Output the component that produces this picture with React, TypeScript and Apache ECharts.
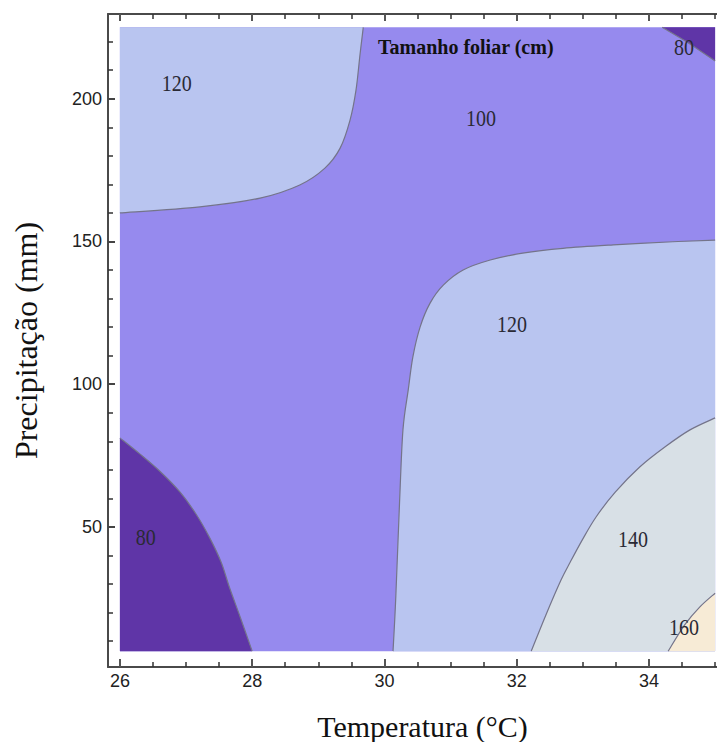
import React, { useEffect, useRef } from "react";
import * as echarts from "echarts";

// ---- data ----
const tempExtent = [26, 35];
const precipExtent = [6.5, 225];
const xAxisMin = 25.82;
const xAxisMax = 35.18;
const yAxisMin = 0.95;
const yAxisMax = 229.67;

const xLabelTicks = [26, 28, 30, 32, 34];
const xMinorTicks = [26.5, 27, 27.5, 28.5, 29, 29.5, 30.5, 31, 31.5, 32.5, 33, 33.5, 34.5, 35];
const yLabelTicks = [50, 100, 150, 200];
const yMinorTicks = [10, 20, 30, 40, 60, 70, 80, 90, 110, 120, 130, 140, 160, 170, 180, 190, 210, 220];

// contour lines [temperature, precipitation]
const contour80Low: number[][] = [
  [26.0, 81.2], [26.3, 75.6], [26.6, 69.6], [26.91, 62.2], [27.16, 54.2],
  [27.36, 46.1], [27.53, 37.7], [27.66, 28.6], [27.82, 18.4], [28.0, 6.5],
];
const contour120Left: number[][] = [
  [26.0, 160.0], [27.21, 162.1], [28.12, 165.2], [28.72, 169.8], [29.1, 175.7],
  [29.33, 182.7], [29.48, 192.5], [29.57, 203.0], [29.63, 215.3], [29.68, 225.0],
];
const contour120Right: number[][] = [
  [35.0, 150.5], [34.36, 149.9], [33.46, 148.8], [32.7, 147.6], [32.09, 145.9],
  [31.6, 143.5], [31.19, 140.0], [30.89, 134.7], [30.69, 128.4], [30.54, 120.1],
  [30.43, 109.6], [30.36, 98.0], [30.28, 84.0], [30.23, 59.4], [30.17, 24.5], [30.13, 6.5],
];
const contour140: number[][] = [
  [35.0, 88.2], [34.62, 84.0], [34.24, 78.0], [33.86, 71.0], [33.49, 62.2],
  [33.2, 53.5], [32.99, 45.4], [32.81, 37.7], [32.67, 31.4], [32.44, 19.1], [32.22, 6.5],
];
const contour160: number[][] = [
  [35.0, 26.8], [34.77, 22.0], [34.54, 15.7], [34.29, 6.5],
];
const contour80High: number[][] = [
  [34.2, 225.0], [34.62, 219.2], [35.0, 213.2],
];

const labelTexts = ["120", "100", "80", "120", "80", "140", "160"];
const labelTemps = [26.86, 31.46, 34.53, 31.93, 26.39, 33.76, 34.53];
const labelPrecips = [205.5, 193.2, 218.2, 121.1, 46.5, 45.8, 15.0];

const titleText = "Tamanho foliar (cm)";
const titlePos = [31.23, 218.1];

// ---- styles ----
const levelColors: Record<number, string> = {
  80: "#5f35a7",
  100: "#968aee",
  120: "#b9c5f0",
  140: "#d8e0e6",
  160: "#f7ebd6",
};

const [t0, t1] = tempExtent;
const [p0, p1] = precipExtent;
const regions = [
  { level: 100, curve: [[t0, p0], [t1, p0], [t1, p1]], corner: [t0, p1], smooth: false },
  { level: 80, curve: contour80Low, corner: [t0, p0], smooth: true },
  { level: 120, curve: contour120Left, corner: [t0, p1], smooth: true },
  { level: 120, curve: contour120Right, corner: [t1, p0], smooth: true },
  { level: 140, curve: contour140, corner: [t1, p0], smooth: true },
  { level: 160, curve: contour160, corner: [t1, p0], smooth: true },
  { level: 80, curve: contour80High, corner: [t1, p1], smooth: true },
];
const lines = [contour80Low, contour120Left, contour120Right, contour140, contour160, contour80High];

const axisColor = "#4a4a4a";
const tickFont = { fontFamily: "Liberation Sans", fontSize: 18, color: "#222" };

// Catmull-Rom curve through screen points, written as cubic Bezier path
function curvePath(pts: number[][], smooth: boolean): string {
  const f = (p: number[]) => `${p[0].toFixed(2)},${p[1].toFixed(2)}`;
  let d = `M${f(pts[0])}`;
  for (let i = 0; i < pts.length - 1; i++) {
    const a = pts[i - 1] || pts[i];
    const b = pts[i];
    const c = pts[i + 1];
    const e = pts[i + 2] || c;
    if (!smooth) {
      d += ` L${f(c)}`;
      continue;
    }
    const c1 = [b[0] + (c[0] - a[0]) / 6, b[1] + (c[1] - a[1]) / 6];
    const c2 = [c[0] - (e[0] - b[0]) / 6, c[1] - (e[1] - b[1]) / 6];
    d += ` C${f(c1)} ${f(c2)} ${f(c)}`;
  }
  return d;
}

export default function App() {
  const ref = useRef<HTMLDivElement>(null);
  useEffect(() => {
    if (!ref.current) return;
    const chart = echarts.init(ref.current, null, { renderer: "svg", width: 727, height: 742 });
    const baseX = {
      type: "value" as const,
      min: xAxisMin,
      max: xAxisMax,
      splitLine: { show: false },
    };
    const baseY = {
      type: "value" as const,
      min: yAxisMin,
      max: yAxisMax,
      splitLine: { show: false },
    };
    chart.setOption({
      animation: false,
      backgroundColor: "#ffffff",
      grid: { left: 108, top: 14, right: 0, bottom: 75, containLabel: false, outerBoundsMode: "none" },
      xAxis: [
        {
          ...baseX,
          position: "bottom",
          name: "Temperatura (°C)",
          nameLocation: "middle",
          nameGap: 44,
          nameTextStyle: { fontFamily: "Liberation Serif", fontSize: 30, color: "#111", padding: [0, 0, 0, 10] },
          axisLine: { show: true, onZero: false, lineStyle: { color: axisColor, width: 2 } },
          axisTick: { show: true, inside: true, length: 8, customValues: xLabelTicks, lineStyle: { color: "#555", width: 2 } },
          axisLabel: { show: true, margin: 5, customValues: xLabelTicks, ...tickFont },
        },
        {
          ...baseX,
          position: "bottom",
          axisLine: { show: false, onZero: false },
          axisTick: { show: true, inside: true, length: 5, customValues: xMinorTicks, lineStyle: { color: "#333", width: 1.5 } },
          axisLabel: { show: false },
        },
        {
          ...baseX,
          position: "top",
          axisLine: { show: true, onZero: false, lineStyle: { color: axisColor, width: 2 } },
          axisTick: { show: true, inside: true, length: 7, customValues: xLabelTicks, lineStyle: { color: "#555", width: 2 } },
          axisLabel: { show: false },
        },
        {
          ...baseX,
          position: "top",
          axisLine: { show: false, onZero: false },
          axisTick: { show: true, inside: true, length: 5, customValues: xMinorTicks, lineStyle: { color: "#333", width: 1.5 } },
          axisLabel: { show: false },
        },
      ],
      yAxis: [
        {
          ...baseY,
          position: "left",
          name: "Precipitação (mm)",
          nameLocation: "middle",
          nameGap: 66,
          nameRotate: 90,
          nameTextStyle: { fontFamily: "Liberation Serif", fontSize: 32, color: "#111" },
          axisLine: { show: true, onZero: false, lineStyle: { color: axisColor, width: 2 } },
          axisTick: { show: true, inside: true, length: 7, customValues: yLabelTicks, lineStyle: { color: "#444", width: 2 } },
          axisLabel: { show: true, margin: 6, customValues: yLabelTicks, ...tickFont },
        },
        {
          ...baseY,
          position: "left",
          axisLine: { show: false, onZero: false },
          axisTick: { show: true, inside: true, length: 5, customValues: yMinorTicks, lineStyle: { color: "#333", width: 1.5 } },
          axisLabel: { show: false },
        },
      ],
      series: [
        {
          type: "custom",
          coordinateSystem: "cartesian2d",
          xAxisIndex: 0,
          yAxisIndex: 0,
          silent: true,
          data: regions.map((_, i) => [i]),
          renderItem: (params: any, api: any) => {
            const r = regions[params.dataIndex];
            const pts = r.curve.map((p) => api.coord(p));
            const corner = api.coord(r.corner);
            const d = curvePath(pts, r.smooth) + ` L${corner[0].toFixed(2)},${corner[1].toFixed(2)} Z`;
            return {
              type: "path",
              shape: { pathData: d },
              style: { fill: levelColors[r.level], stroke: null },
            };
          },
        },
        {
          type: "custom",
          coordinateSystem: "cartesian2d",
          xAxisIndex: 0,
          yAxisIndex: 0,
          silent: true,
          data: lines.map((_, i) => [i]),
          renderItem: (params: any, api: any) => {
            const l = lines[params.dataIndex];
            return {
              type: "path",
              shape: { pathData: curvePath(l.map((p) => api.coord(p)), true) },
              style: { fill: null, stroke: "#74748a", lineWidth: 1.2 },
            };
          },
        },
        {
          type: "custom",
          coordinateSystem: "cartesian2d",
          xAxisIndex: 0,
          yAxisIndex: 0,
          silent: true,
          data: labelTexts.map((_, i) => [i]),
          renderItem: (params: any, api: any) => {
            const i = params.dataIndex;
            const [x, y] = api.coord([labelTemps[i], labelPrecips[i]]);
            return {
              type: "text",
              x,
              y,
              scaleY: 1.2,
              style: {
                text: labelTexts[i],
                font: '20px "Liberation Serif"',
                fill: "#2a2a35",
                align: "center",
                verticalAlign: "middle",
              },
            };
          },
        },
        {
          type: "custom",
          coordinateSystem: "cartesian2d",
          xAxisIndex: 0,
          yAxisIndex: 0,
          silent: true,
          data: [[0]],
          renderItem: (_params: any, api: any) => {
            const [x, y] = api.coord(titlePos);
            return {
              type: "text",
              x,
              y,
              style: {
                text: titleText,
                font: 'bold 20px "Liberation Serif"',
                fill: "#111",
                align: "center",
                verticalAlign: "middle",
              },
            };
          },
        },
      ],
    });
    return () => chart.dispose();
  }, []);
  return (
    <div style={{ position: "fixed", left: 0, top: 0, width: 717, height: 742, overflow: "hidden", background: "#fff" }}>
      <div ref={ref} style={{ width: 727, height: 742 }} />
    </div>
  );
}
